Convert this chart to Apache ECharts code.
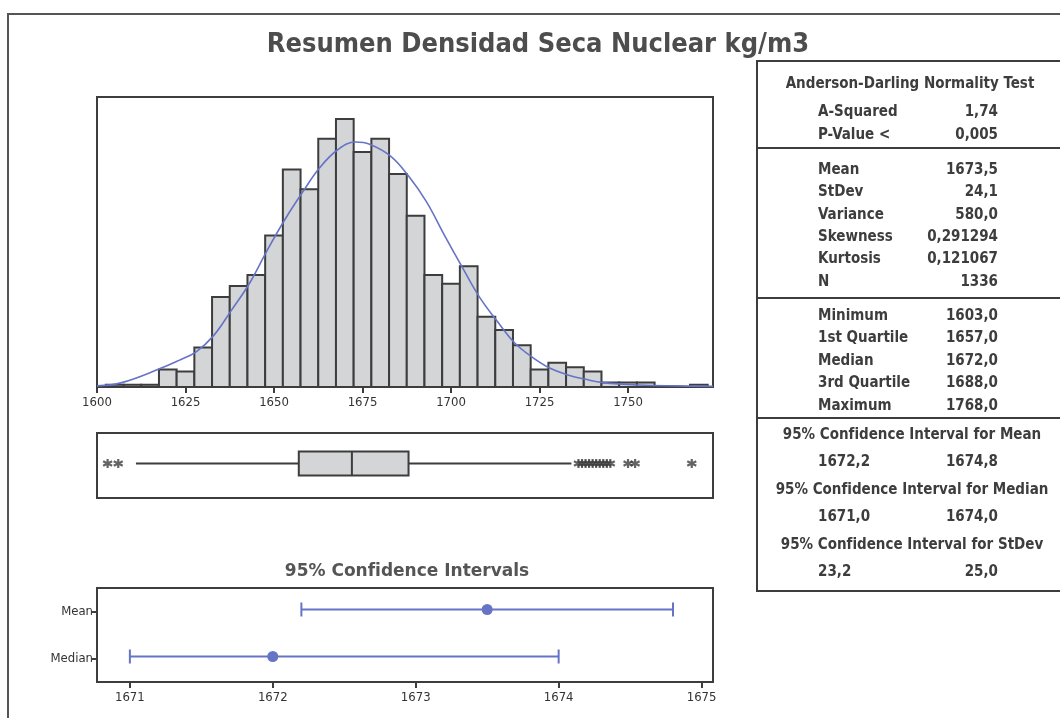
<!DOCTYPE html>
<html lang="es">
<head>
<meta charset="UTF-8">
<title>Resumen Densidad Seca Nuclear kg/m3</title>
<style>
  html, body { margin: 0; padding: 0; background: #fff; }
  #main { width: 1060px; height: 718px; }
</style>
</head>
<body>
<div id="main"></div>
<script src="https://cdn.jsdelivr.net/npm/echarts@6/dist/echarts.min.js"></script>
<script>
// histogram: bin centres (5 kg/m3 wide) and counts
var binWidth = 5;
var binCenters = [1605, 1610, 1615, 1620, 1625, 1630, 1635, 1640, 1645, 1650, 1655, 1660, 1665, 1670, 1675,
  1680, 1685, 1690, 1695, 1700, 1705, 1710, 1715, 1720, 1725, 1730, 1735, 1740, 1745, 1750, 1755, 1760, 1765, 1770];
var binCounts = [1, 1, 1, 8, 7, 18, 41, 46, 51, 69, 99, 90, 113, 122, 107,
  113, 97, 78, 51, 47, 55, 32, 26, 19, 8, 11, 9, 7, 2, 2, 2, 0, 0, 1];

// fitted normal curve (in counts)
var curveX = [1600, 1607, 1618, 1623, 1628, 1633, 1638, 1643, 1648, 1653, 1658, 1663, 1668, 1673, 1677, 1683,
  1688, 1693, 1698, 1703, 1708, 1713, 1718, 1723, 1728, 1733, 1738, 1743, 1753, 1764, 1774];
var curveY = [0.5, 2, 8.5, 12, 16, 23.5, 35, 47, 62, 76, 88.5, 100, 108, 111.5, 110.5, 105,
  96, 84.5, 69.5, 55, 41, 30, 20, 13.5, 8.5, 5.5, 3.5, 2, 0.9, 0.5, 0.3];
var histTicks = [1600, 1625, 1650, 1675, 1700, 1725, 1750];

// box plot: whisker low, Q1, median, Q3, whisker high + outliers
var boxStats = [1611, 1657, 1672, 1688, 1734];
var outliers = [1603, 1606, 1736, 1737, 1738, 1739, 1740, 1741, 1742, 1743, 1744, 1745, 1750, 1752, 1768];

// 95% confidence intervals: [low, estimate, high]
var ciNames = ['Median', 'Mean'];
var ciValues = [[1671.0, 1672.0, 1674.0], [1672.2, 1673.5, 1674.8]];
var ciTicks = [1671, 1672, 1673, 1674, 1675];

// summary table
var adLabels = ['A-Squared', 'P-Value <'];
var adValues = ['1,74', '0,005'];
var momentLabels = ['Mean', 'StDev', 'Variance', 'Skewness', 'Kurtosis', 'N'];
var momentValues = ['1673,5', '24,1', '580,0', '0,291294', '0,121067', '1336'];
var quantLabels = ['Minimum', '1st Quartile', 'Median', '3rd Quartile', 'Maximum'];
var quantValues = ['1603,0', '1657,0', '1672,0', '1688,0', '1768,0'];
var ciTitles = ['95% Confidence Interval for Mean', '95% Confidence Interval for Median', '95% Confidence Interval for StDev'];
var ciBounds = [['1672,2', '1674,8'], ['1671,0', '1674,0'], ['23,2', '25,0']];

var ink = '#3d3d3d';
var barFill = '#d3d5d7';
var blue = '#6674c6';
var cond = '"DejaVu Sans Condensed", "DejaVu Sans", sans-serif';
var tableFont = 'bold 15px ' + cond;

var myChart = echarts.init(document.getElementById('main'), null, { renderer: 'canvas' });

function txt(s, x, y, align, font, fill) {
  return {
    type: 'text', x: x, y: y, silent: true,
    style: { text: s, font: font || tableFont, fill: fill || ink, align: align, textAlign: align,
      verticalAlign: 'middle', textVerticalAlign: 'middle' }
  };
}

function hline(x1, x2, y) {
  return { type: 'line', silent: true, shape: { x1: x1, y1: y, x2: x2, y2: y },
    style: { stroke: ink, lineWidth: 2 } };
}

function plain(v) { return String(v); }

// table + frames
var graphics = [
  { type: 'rect', silent: true, shape: { x: 8, y: 14, width: 1200, height: 900 },
    style: { fill: 'none', stroke: '#555', lineWidth: 2 } },
  txt('Resumen Densidad Seca Nuclear kg/m3', 538, 45, 'center', 'bold 27px ' + cond, '#4d4d4d'),
  txt('95% Confidence Intervals', 407, 572, 'center', 'bold 17px "DejaVu Sans", sans-serif', '#555'),
  { type: 'rect', silent: true, shape: { x: 757, y: 61, width: 400, height: 530 },
    style: { fill: 'none', stroke: ink, lineWidth: 2 } },
  hline(757, 1060, 148), hline(757, 1060, 298), hline(757, 1060, 418),
  txt('Anderson-Darling Normality Test', 910, 84, 'center')
];
adLabels.forEach(function (l, i) {
  graphics.push(txt(l, 818, 112 + i * 23, 'left'), txt(adValues[i], 998, 112 + i * 23, 'right'));
});
momentLabels.forEach(function (l, i) {
  graphics.push(txt(l, 818, 170 + i * 22.4, 'left'), txt(momentValues[i], 998, 170 + i * 22.4, 'right'));
});
quantLabels.forEach(function (l, i) {
  graphics.push(txt(l, 818, 316 + i * 22.5, 'left'), txt(quantValues[i], 998, 316 + i * 22.5, 'right'));
});
ciTitles.forEach(function (t, i) {
  graphics.push(txt(t, 912, 435 + i * 55, 'center'));
  graphics.push(txt(ciBounds[i][0], 818, 462 + i * 55, 'left'), txt(ciBounds[i][1], 998, 462 + i * 55, 'right'));
});

var gridBase = { show: true, borderColor: ink, borderWidth: 2, backgroundColor: 'transparent', containLabel: false };
var tickLabel = { fontSize: 13, fontFamily: cond, color: '#333', margin: 9, formatter: plain };

var option = {
  backgroundColor: '#fff',
  animation: false,
  grid: [
    Object.assign({ left: 97, top: 97, width: 616, height: 290 }, gridBase),
    Object.assign({ left: 97, top: 433, width: 616, height: 65 }, gridBase),
    Object.assign({ left: 97, top: 588, width: 616, height: 94 }, gridBase)
  ],
  xAxis: [{
    gridIndex: 0, type: 'value', min: 1600, max: 1774,
    axisLine: { show: false },
    axisTick: { show: true, customValues: histTicks, length: 6, lineStyle: { color: ink, width: 2 } },
    axisLabel: Object.assign({ customValues: histTicks }, tickLabel),
    splitLine: { show: false }
  }, {
    gridIndex: 1, type: 'value', min: 1600, max: 1774, show: false
  }, {
    gridIndex: 2, type: 'value', min: 1670.77, max: 1675.08,
    axisLine: { show: false },
    axisTick: { show: true, customValues: ciTicks, length: 6, lineStyle: { color: ink, width: 2 } },
    axisLabel: Object.assign({ customValues: ciTicks }, tickLabel),
    splitLine: { show: false }
  }],
  yAxis: [{
    gridIndex: 0, type: 'value', min: 0, max: 132, show: false
  }, {
    gridIndex: 1, type: 'category', data: [''], show: false
  }, {
    gridIndex: 2, type: 'category', data: ciNames,
    axisLine: { show: false },
    axisTick: { show: true, alignWithLabel: true, length: 5, lineStyle: { color: ink, width: 2 } },
    axisLabel: { fontSize: 13, fontFamily: cond, color: '#333', margin: 4 }
  }],
  graphic: { elements: graphics },
  series: [{
    // histogram bars
    type: 'custom', xAxisIndex: 0, yAxisIndex: 0,
    data: binCenters.map(function (c, i) { return [c - binWidth / 2, c + binWidth / 2, binCounts[i]]; }),
    encode: { x: [0, 1], y: 2 },
    renderItem: function (params, api) {
      if (!api.value(2)) return null;
      var p0 = api.coord([api.value(0), api.value(2)]);
      var p1 = api.coord([api.value(1), 0]);
      return {
        type: 'rect',
        shape: { x: p0[0], y: p0[1], width: p1[0] - p0[0], height: p1[1] - p0[1] },
        style: { fill: barFill, stroke: ink, lineWidth: 2 }
      };
    },
    z: 2
  }, {
    // normal fit
    type: 'line', xAxisIndex: 0, yAxisIndex: 0,
    data: curveX.map(function (x, i) { return [x, curveY[i]]; }),
    smooth: 0.4, showSymbol: false, silent: true,
    lineStyle: { color: blue, width: 1.6 },
    z: 3
  }, {
    // box plot (no whisker caps)
    type: 'custom', xAxisIndex: 1, yAxisIndex: 1,
    data: [boxStats.concat([0])],
    encode: { x: [0, 1, 2, 3, 4], y: 5 },
    renderItem: function (params, api) {
      var y = api.coord([api.value(0), 0])[1] - 2;
      var xs = [0, 1, 2, 3, 4].map(function (k) { return api.coord([api.value(k), 0])[0]; });
      var h = 12;
      var st = { stroke: ink, lineWidth: 2 };
      return {
        type: 'group',
        children: [
          { type: 'line', shape: { x1: xs[0], y1: y, x2: xs[1], y2: y }, style: st },
          { type: 'line', shape: { x1: xs[3], y1: y, x2: xs[4], y2: y }, style: st },
          { type: 'rect', shape: { x: xs[1], y: y - h, width: xs[3] - xs[1], height: 2 * h },
            style: { fill: barFill, stroke: ink, lineWidth: 2 } },
          { type: 'line', shape: { x1: xs[2], y1: y - h, x2: xs[2], y2: y + h }, style: st }
        ]
      };
    }
  }, {
    // outliers
    type: 'scatter', xAxisIndex: 1, yAxisIndex: 1,
    data: outliers.map(function (v) { return [v, 0]; }),
    symbol: 'path://M5,0L5,10M0.7,2.5L9.3,7.5M0.7,7.5L9.3,2.5',
    symbolSize: 9, symbolOffset: [0, -2],
    itemStyle: { color: 'none', borderColor: ink, borderWidth: 2.2 },
    silent: true
  }, {
    // confidence intervals
    type: 'custom', xAxisIndex: 2, yAxisIndex: 2,
    data: ciValues.map(function (v, i) { return [i, v[0], v[1], v[2]]; }),
    encode: { y: 0, x: [1, 2, 3] },
    renderItem: function (params, api) {
      var row = api.value(0);
      var lo = api.coord([api.value(1), row]);
      var pt = api.coord([api.value(2), row]);
      var hi = api.coord([api.value(3), row]);
      var y = lo[1] - 2;
      var st = { stroke: blue, lineWidth: 2 };
      return {
        type: 'group',
        children: [
          { type: 'line', shape: { x1: lo[0], y1: y, x2: hi[0], y2: y }, style: st },
          { type: 'line', shape: { x1: lo[0], y1: y - 7, x2: lo[0], y2: y + 7 }, style: st },
          { type: 'line', shape: { x1: hi[0], y1: y - 7, x2: hi[0], y2: y + 7 }, style: st },
          { type: 'circle', shape: { cx: pt[0], cy: y, r: 5.5 }, style: { fill: blue } }
        ]
      };
    }
  }]
};

myChart.setOption(option);
</script>
</body>
</html>
